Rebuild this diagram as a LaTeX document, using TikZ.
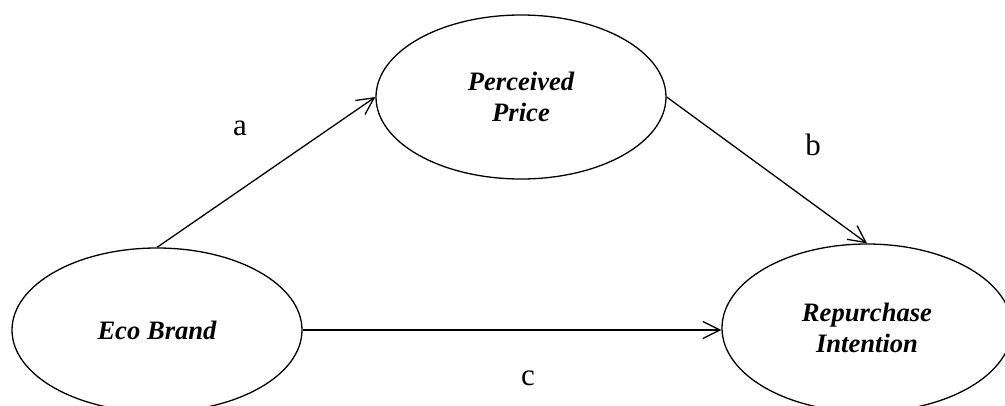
\documentclass[tikz,border=0pt]{standalone}
\usepackage{fontspec}
\setmainfont{Liberation Serif}
\usetikzlibrary{shapes.geometric,arrows.meta}
\tikzset{
  construct/.style={draw, line width=1.3pt, ellipse, inner sep=0pt,
    minimum width=290pt, minimum height=164pt, align=center,
    font=\fontsize{26.6}{31}\selectfont\bfseries\itshape},
  pathlabel/.style={font=\fontsize{31}{31}\selectfont},
  link/.style={line width=1.3pt, -{Straight Barb[length=17pt,width=17pt,line width=1.3pt]}}
}
\begin{document}
\begin{tikzpicture}[x=1pt,y=-1pt]
\useasboundingbox (0,0) rectangle (1005,405);
\clip (0,0) rectangle (1005,405);
\node[construct] (eco) at (157,330) {Eco Brand};
\node[construct] (pp) at (521,97) {Perceived\\Price};
\node[construct, minimum height=168pt] (ri) at (867,328) {Repurchase\\Intention};
\draw[link] (eco.north) -- (pp.west);
\draw[link] (pp.east) -- (ri.north);
\draw[link] (eco.east) -- (eco.east -| ri.west);
\node[pathlabel] (la) at (240,128) {a};
\node[pathlabel] (lb) at (813,145) {b};
\node[pathlabel] (lc) at (528,378) {c};
\end{tikzpicture}
\end{document}
